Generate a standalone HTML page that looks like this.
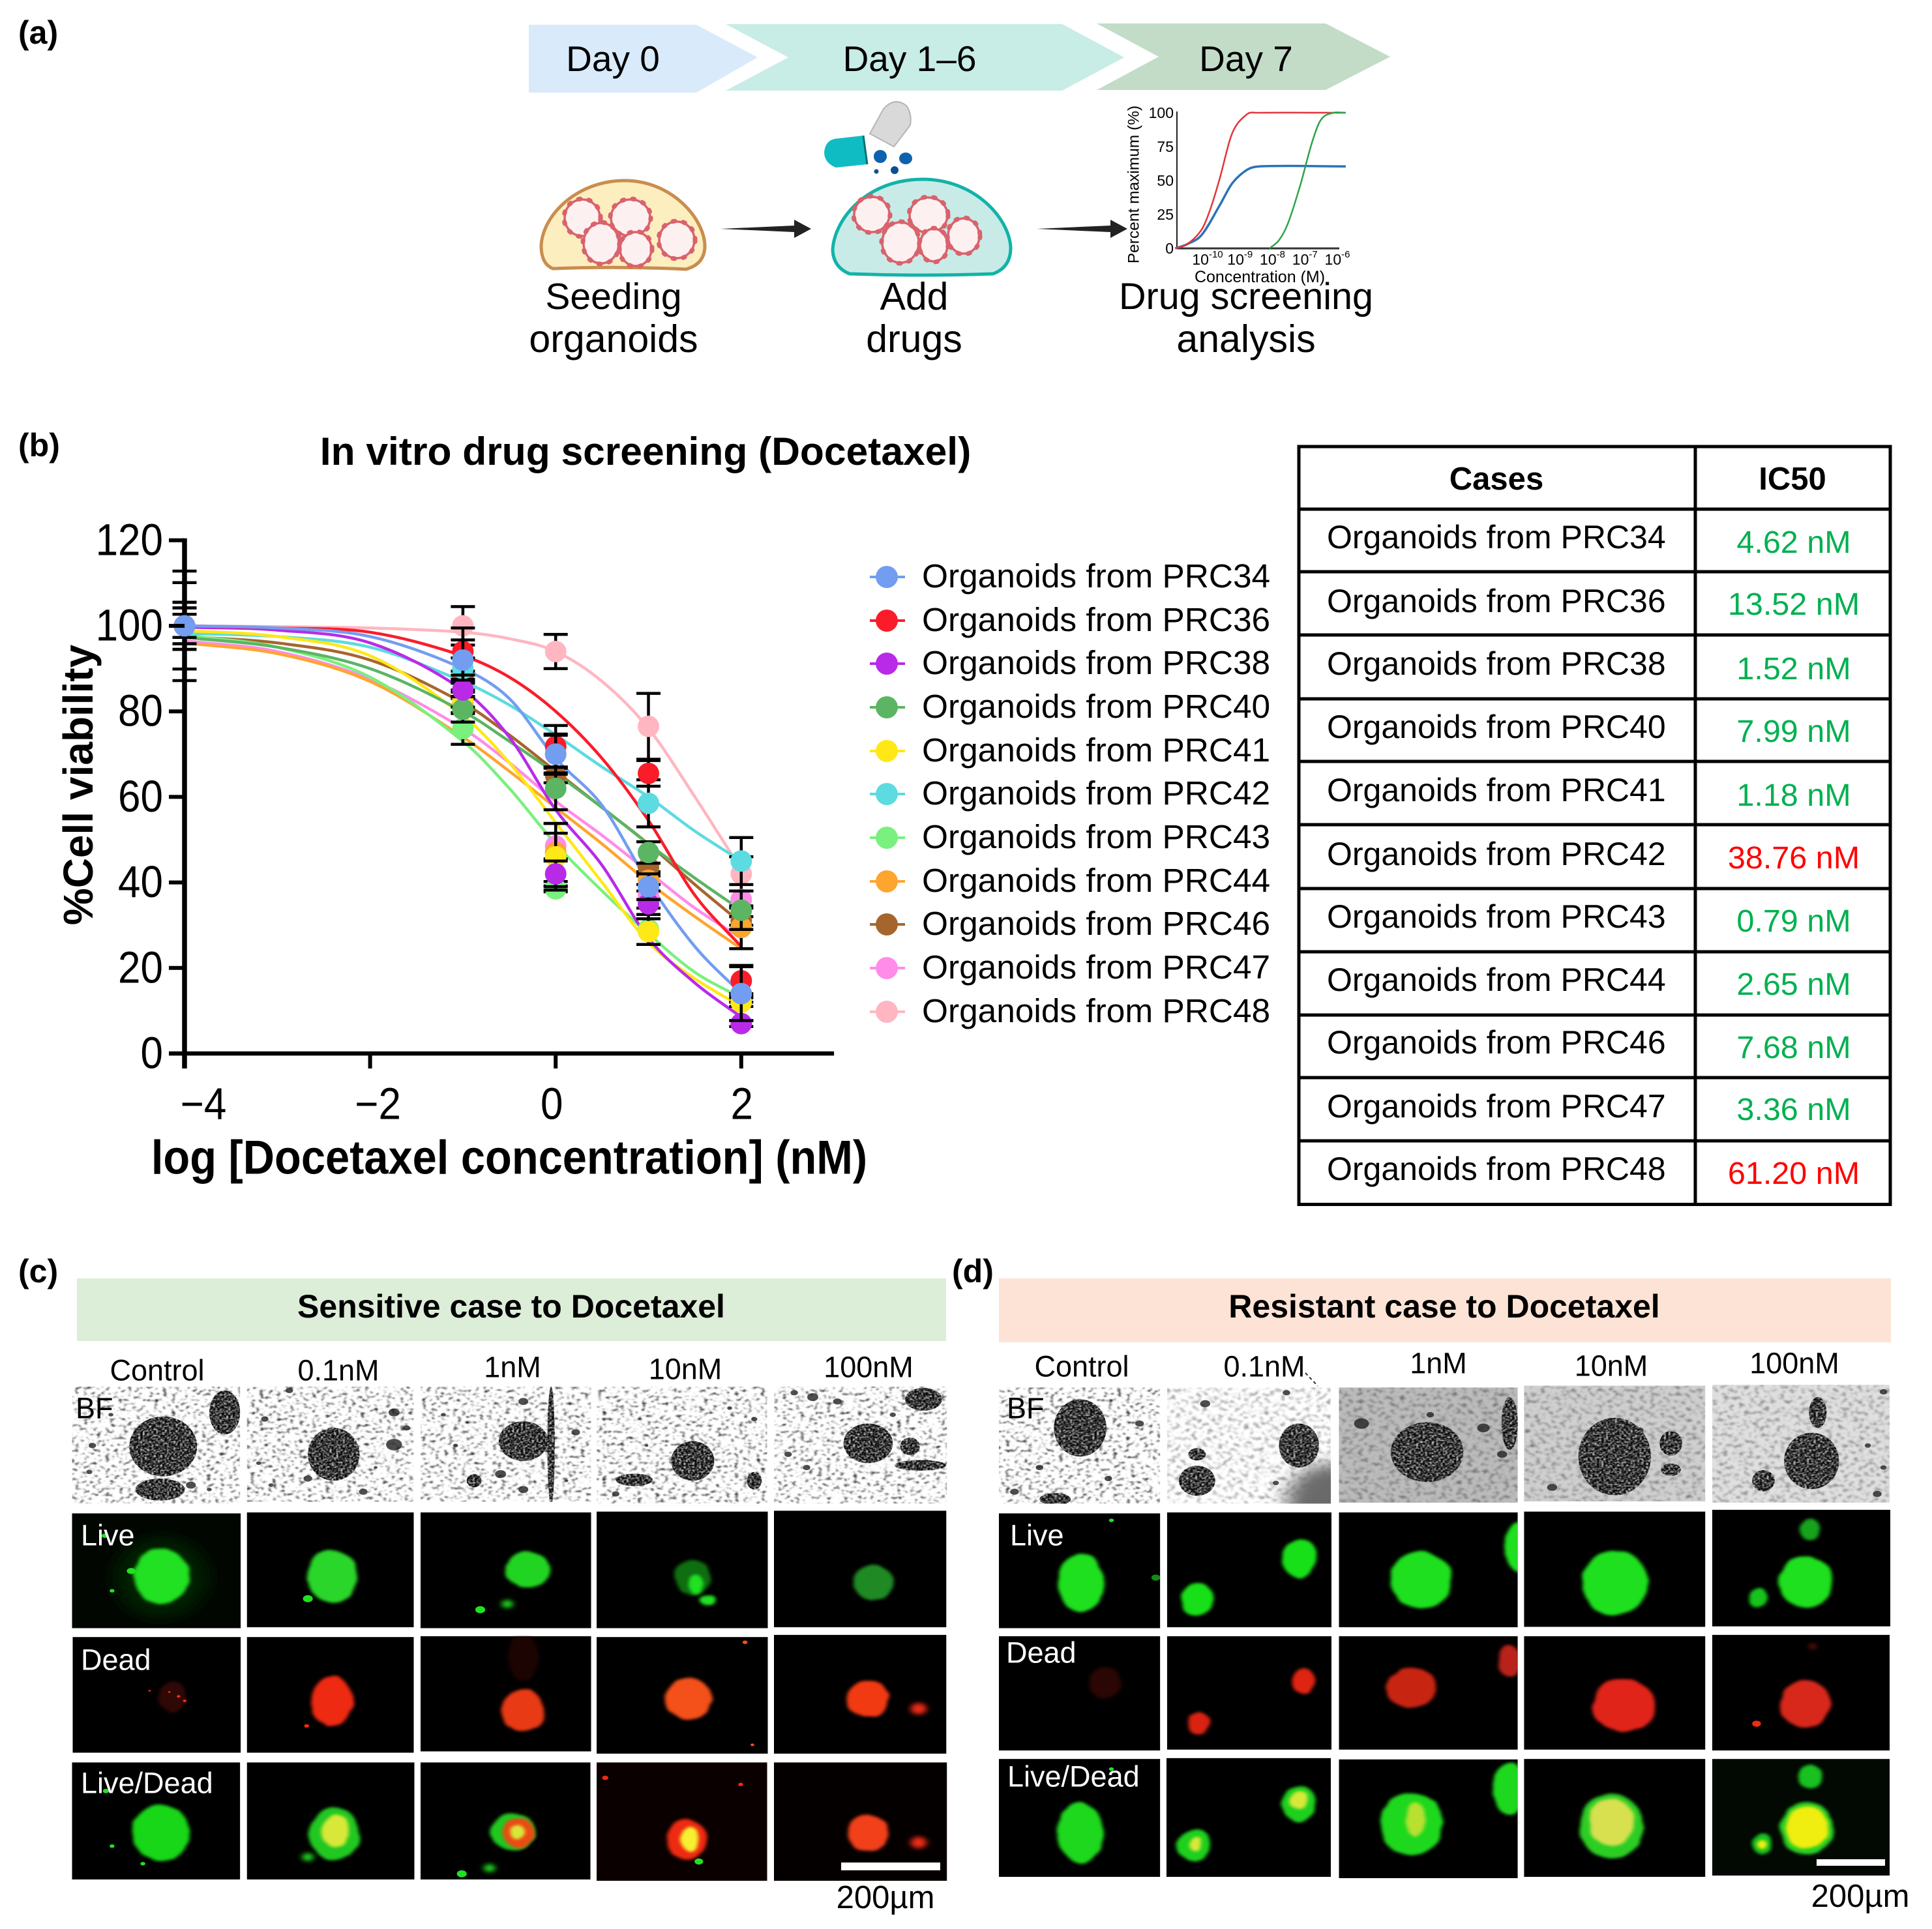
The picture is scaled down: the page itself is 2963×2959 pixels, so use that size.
<!DOCTYPE html>
<html lang="en">
<head>
<meta charset="utf-8">
<title>In vitro drug screening (Docetaxel)</title>
<style>
html,body{margin:0;padding:0;background:#fff;}
svg{display:block;font-family:"Liberation Sans",sans-serif;}
text{dominant-baseline:central;}
</style>
</head>
<body>
<svg id="fig" xmlns="http://www.w3.org/2000/svg" width="2963" height="2959" viewBox="0 0 2963 2959">
<defs>
<filter id="bfTex" x="0" y="0" width="1" height="1" color-interpolation-filters="sRGB"><feTurbulence type="fractalNoise" baseFrequency="0.14" numOctaves="2" seed="4"/><feColorMatrix values="3 0 0 0 -0.38 3 0 0 0 -0.38 3 0 0 0 -0.38 0 0 0 0 1"/><feGaussianBlur stdDeviation="1.1"/></filter>
<filter id="bfSmooth" x="0" y="0" width="1" height="1" color-interpolation-filters="sRGB"><feTurbulence type="fractalNoise" baseFrequency="0.12" numOctaves="2" seed="7"/><feColorMatrix values="1.2 0 0 0 0.38 1.2 0 0 0 0.38 1.2 0 0 0 0.38 0 0 0 0 1"/><feGaussianBlur stdDeviation="1.5"/></filter>
<filter id="ballTex" x="-5%" y="-5%" width="110%" height="110%" color-interpolation-filters="sRGB"><feTurbulence type="fractalNoise" baseFrequency="0.28" numOctaves="2" seed="9"/><feColorMatrix values="2.4 0 0 0 -0.98 2.4 0 0 0 -0.98 2.4 0 0 0 -0.98 0 0 0 0 1"/><feGaussianBlur stdDeviation="0.7"/><feComposite operator="in" in2="SourceAlpha"/></filter>
<filter id="rough" x="-30%" y="-30%" width="160%" height="160%" color-interpolation-filters="sRGB"><feTurbulence type="fractalNoise" baseFrequency="0.03" numOctaves="2" seed="3" result="n"/><feDisplacementMap in="SourceGraphic" in2="n" scale="9" xChannelSelector="R" yChannelSelector="G"/><feGaussianBlur stdDeviation="3"/></filter>
<filter id="soft" x="-60%" y="-60%" width="220%" height="220%"><feGaussianBlur stdDeviation="5"/></filter>
<filter id="glow" x="-80%" y="-80%" width="260%" height="260%"><feGaussianBlur stdDeviation="16"/></filter>
</defs>

<rect width="2963" height="2959" fill="#fff"/>

<!-- Panel a -->
<g>
<text x="28" y="50" font-size="50" font-weight="700">(a)</text>
<polygon points="811,38 1068,38 1162,88 1068,142 811,142" fill="#d9eafa"/>
<polygon points="1113,37 1629,37 1724,88 1629,139 1113,139 1209,88" fill="#c8ece6"/>
<polygon points="1682,36 2033,36 2132,87 2033,138 1682,138 1777,87" fill="#c2dcc8"/>
<text x="940" y="90" font-size="55" text-anchor="middle">Day 0</text>
<text x="1395" y="90" font-size="55" text-anchor="middle">Day 1–6</text>
<text x="1911" y="90" font-size="55" text-anchor="middle">Day 7</text>

<path d="M848,412 Q830,405 830,377 C832,330 885,277 958,277 C1030,277 1080,335 1081,377 Q1081,405 1052,413 Q950,408 848,412Z" fill="#fdeec0" stroke="#c98d4f" stroke-width="5"/>
<g fill="#fdf0f0" stroke="#d9626c">
<ellipse cx="893" cy="334" rx="27" ry="28" stroke-width="3.5"/><ellipse cx="893" cy="334" rx="28" ry="29" fill="none" stroke-width="7" stroke-dasharray="3 13" stroke-linecap="round"/>
<ellipse cx="922" cy="373" rx="27" ry="31" stroke-width="3.5"/><ellipse cx="922" cy="373" rx="28" ry="32" fill="none" stroke-width="7" stroke-dasharray="3 13" stroke-linecap="round"/>
<ellipse cx="967" cy="334" rx="30" ry="28" stroke-width="3.5"/><ellipse cx="967" cy="334" rx="31" ry="29" fill="none" stroke-width="7" stroke-dasharray="3 13" stroke-linecap="round"/>
<ellipse cx="975" cy="382" rx="24" ry="26" stroke-width="3.5"/><ellipse cx="975" cy="382" rx="25" ry="27" fill="none" stroke-width="7" stroke-dasharray="3 13" stroke-linecap="round"/>
<ellipse cx="1038" cy="368" rx="27" ry="28" stroke-width="3.5"/><ellipse cx="1038" cy="368" rx="28" ry="29" fill="none" stroke-width="7" stroke-dasharray="3 13" stroke-linecap="round"/>
</g>
<path d="M1303,420 Q1278,410 1277,383 C1280,335 1330,275 1415,275 C1495,275 1548,335 1550,380 Q1550,410 1523,420 Q1415,424 1303,420Z" fill="#c8ebe8" stroke="#12b3a8" stroke-width="5"/>
<g fill="#fdf0f0" stroke="#d9626c">
<ellipse cx="1337" cy="329" rx="27" ry="27" stroke-width="3.5"/><ellipse cx="1337" cy="329" rx="28" ry="28" fill="none" stroke-width="7" stroke-dasharray="3 13" stroke-linecap="round"/>
<ellipse cx="1381" cy="372" rx="28" ry="31" stroke-width="3.5"/><ellipse cx="1381" cy="372" rx="29" ry="32" fill="none" stroke-width="7" stroke-dasharray="3 13" stroke-linecap="round"/>
<ellipse cx="1424" cy="330" rx="29" ry="27" stroke-width="3.5"/><ellipse cx="1424" cy="330" rx="30" ry="28" fill="none" stroke-width="7" stroke-dasharray="3 13" stroke-linecap="round"/>
<ellipse cx="1478" cy="362" rx="24" ry="27" stroke-width="3.5"/><ellipse cx="1478" cy="362" rx="25" ry="28" fill="none" stroke-width="7" stroke-dasharray="3 13" stroke-linecap="round"/>
<ellipse cx="1432" cy="376" rx="21" ry="25" stroke-width="3.5"/><ellipse cx="1432" cy="376" rx="22" ry="26" fill="none" stroke-width="7" stroke-dasharray="3 13" stroke-linecap="round"/>
</g>
<path d="M1105,351 L1218,346 L1218,337 L1244,351 L1218,365 L1218,356 Z" fill="#222"/>
<path d="M1590,351 L1703,346 L1703,337 L1729,351 L1703,365 L1703,356 Z" fill="#222"/>
<g>
<path d="M1334,205 L1355,167 Q1372,148 1390,162 Q1399,175 1396,192 L1371,225 Z" fill="#d9d9d9" stroke="#b5b5b5" stroke-width="2"/>
<path d="M1324,208 L1330,252 L1282,257 Q1264,250 1264,233 Q1266,216 1280,213 Z" fill="#0fbcc4"/>
<path d="M1324,208 L1330,252" stroke="#0a6f74" stroke-width="3" fill="none"/>
<ellipse cx="1350" cy="240" rx="10" ry="10" fill="#0d62ad"/><ellipse cx="1389" cy="243" rx="10" ry="9" fill="#0d62ad"/><circle cx="1372" cy="261" r="6" fill="#0d4f96"/><circle cx="1344" cy="263" r="3.5" fill="#0d4f96"/>
</g>
<g id="mini">
<line x1="1805" y1="171" x2="1805" y2="381" stroke="#222" stroke-width="2"/>
<line x1="1805" y1="381" x2="2054" y2="381" stroke="#333" stroke-width="3"/>
<text transform="translate(1739,283) rotate(-90)" font-size="24.5" text-anchor="middle">Percent maximum (%)</text>
<text x="1932" y="425" font-size="25" text-anchor="middle">Concentration (M)</text>
</g>
<text x="941" y="455" font-size="57" text-anchor="middle">Seeding</text>
<text x="941" y="520" font-size="59" text-anchor="middle">organoids</text>
<text x="1402" y="455" font-size="59" text-anchor="middle">Add</text>
<text x="1402" y="520" font-size="59" text-anchor="middle">drugs</text>
<text x="1911" y="455" font-size="57.5" text-anchor="middle">Drug screening</text>
<text x="1911" y="520" font-size="59" text-anchor="middle">analysis</text>
</g>

<!-- Panel b -->
<g>
<text x="28" y="683" font-size="50" font-weight="700">(b)</text>
<text x="990" y="692" font-size="60.5" font-weight="700" text-anchor="middle">In vitro drug screening (Docetaxel)</text>
<g id="plot"></g>
<text transform="translate(120,1204) rotate(-90)" font-size="64" font-weight="700" text-anchor="middle">%Cell viability</text>
<text transform="translate(781,1775) scale(1,1.1)" font-size="66.8" font-weight="700" text-anchor="middle">log [Docetaxel concentration] (nM)</text>

<g font-size="51.4">
<g><line x1="1334" x2="1388" y1="885" y2="885" stroke="#729df0" stroke-width="4"/><circle cx="1360" cy="885" r="17" fill="#729df0"/><text x="1414" y="883">Organoids from PRC34</text></g>
<g><line x1="1334" x2="1388" y1="952" y2="952" stroke="#fb1c2a" stroke-width="4"/><circle cx="1360" cy="952" r="17" fill="#fb1c2a"/><text x="1414" y="950">Organoids from PRC36</text></g>
<g><line x1="1334" x2="1388" y1="1018" y2="1018" stroke="#b92ae8" stroke-width="4"/><circle cx="1360" cy="1018" r="17" fill="#b92ae8"/><text x="1414" y="1016">Organoids from PRC38</text></g>
<g><line x1="1334" x2="1388" y1="1085" y2="1085" stroke="#5bb562" stroke-width="4"/><circle cx="1360" cy="1085" r="17" fill="#5bb562"/><text x="1414" y="1083">Organoids from PRC40</text></g>
<g><line x1="1334" x2="1388" y1="1152" y2="1152" stroke="#ffe817" stroke-width="4"/><circle cx="1360" cy="1152" r="17" fill="#ffe817"/><text x="1414" y="1150">Organoids from PRC41</text></g>
<g><line x1="1334" x2="1388" y1="1218" y2="1218" stroke="#5cdbe0" stroke-width="4"/><circle cx="1360" cy="1218" r="17" fill="#5cdbe0"/><text x="1414" y="1216">Organoids from PRC42</text></g>
<g><line x1="1334" x2="1388" y1="1285" y2="1285" stroke="#7af07e" stroke-width="4"/><circle cx="1360" cy="1285" r="17" fill="#7af07e"/><text x="1414" y="1283">Organoids from PRC43</text></g>
<g><line x1="1334" x2="1388" y1="1352" y2="1352" stroke="#fea52f" stroke-width="4"/><circle cx="1360" cy="1352" r="17" fill="#fea52f"/><text x="1414" y="1350">Organoids from PRC44</text></g>
<g><line x1="1334" x2="1388" y1="1418" y2="1418" stroke="#a7652e" stroke-width="4"/><circle cx="1360" cy="1418" r="17" fill="#a7652e"/><text x="1414" y="1416">Organoids from PRC46</text></g>
<g><line x1="1334" x2="1388" y1="1485" y2="1485" stroke="#ff8ce8" stroke-width="4"/><circle cx="1360" cy="1485" r="17" fill="#ff8ce8"/><text x="1414" y="1483">Organoids from PRC47</text></g>
<g><line x1="1334" x2="1388" y1="1552" y2="1552" stroke="#ffb6c1" stroke-width="4"/><circle cx="1360" cy="1552" r="17" fill="#ffb6c1"/><text x="1414" y="1550">Organoids from PRC48</text></g>
</g>

<g>
<g stroke="#000" stroke-width="5" fill="none">
<rect x="1992" y="685" width="907" height="1162.5"/>
<line x1="2600" x2="2600" y1="685" y2="1847"/>
<line x1="1992" x2="2899" y1="781" y2="781"/><line x1="1992" x2="2899" y1="877" y2="877"/><line x1="1992" x2="2899" y1="974" y2="974"/><line x1="1992" x2="2899" y1="1072" y2="1072"/><line x1="1992" x2="2899" y1="1168" y2="1168"/><line x1="1992" x2="2899" y1="1265" y2="1265"/><line x1="1992" x2="2899" y1="1363" y2="1363"/><line x1="1992" x2="2899" y1="1460" y2="1460"/><line x1="1992" x2="2899" y1="1557" y2="1557"/><line x1="1992" x2="2899" y1="1653" y2="1653"/><line x1="1992" x2="2899" y1="1750" y2="1750"/>
</g>
<text x="2295" y="735" font-size="49" font-weight="700" text-anchor="middle">Cases</text>
<text x="2749" y="735" font-size="49" font-weight="700" text-anchor="middle">IC50</text>
<g font-size="50">
<text x="2035" y="824">Organoids from PRC34</text><text x="2035" y="922">Organoids from PRC36</text><text x="2035" y="1018">Organoids from PRC38</text><text x="2035" y="1115">Organoids from PRC40</text><text x="2035" y="1212">Organoids from PRC41</text><text x="2035" y="1310">Organoids from PRC42</text><text x="2035" y="1406">Organoids from PRC43</text><text x="2035" y="1503">Organoids from PRC44</text><text x="2035" y="1599">Organoids from PRC46</text><text x="2035" y="1697">Organoids from PRC47</text><text x="2035" y="1793">Organoids from PRC48</text>
</g>
<g font-size="48.5" text-anchor="middle" fill="#00b050">
<text x="2751" y="832">4.62 nM</text><text x="2751" y="927">13.52 nM</text><text x="2751" y="1026">1.52 nM</text><text x="2751" y="1122">7.99 nM</text><text x="2751" y="1220">1.18 nM</text><text x="2751" y="1316" fill="#ff0000">38.76 nM</text><text x="2751" y="1413">0.79 nM</text><text x="2751" y="1510">2.65 nM</text><text x="2751" y="1607">7.68 nM</text><text x="2751" y="1702">3.36 nM</text><text x="2751" y="1800" fill="#ff0000">61.20 nM</text>
</g>
</g>
</g>

<!-- Panels c and d -->
<g id="photos"></g>
<g>
<text x="28" y="1950" font-size="50" font-weight="700">(c)</text>
<rect x="118" y="1961" width="1333" height="96" fill="#dcedd8"/>
<text x="784" y="2004" font-size="50" font-weight="700" text-anchor="middle">Sensitive case to Docetaxel</text>
<g font-size="45" text-anchor="middle">
<text x="241" y="2102">Control</text><text x="519" y="2102">0.1nM</text><text x="786" y="2097">1nM</text><text x="1051" y="2100">10nM</text><text x="1332" y="2097">100nM</text>
</g>
<text x="116" y="2160" font-size="45">BF</text>
<g font-size="45" fill="#fff">
<text x="124" y="2355">Live</text><text x="124" y="2546">Dead</text><text x="124" y="2735">Live/Dead</text>
</g>
<rect x="1290" y="2857" width="152" height="12" fill="#fff"/>
<text x="1358" y="2911" font-size="49" text-anchor="middle">200µm</text>
</g>
<g>
<text x="1460" y="1950" font-size="50" font-weight="700">(d)</text>
<rect x="1532" y="1961" width="1368" height="98" fill="#fde3d5"/>
<text x="2215" y="2004" font-size="50" font-weight="700" text-anchor="middle">Resistant case to Docetaxel</text>
<g font-size="45" text-anchor="middle">
<text x="1659" y="2096">Control</text><text x="1939" y="2096">0.1nM</text><text x="2206" y="2091">1nM</text><text x="2471" y="2095">10nM</text><text x="2752" y="2091">100nM</text>
</g>
<line x1="2002" y1="2106" x2="2021" y2="2126" stroke="#333" stroke-width="2" stroke-dasharray="5 4"/>
<text x="1544" y="2160" font-size="45">BF</text>
<g font-size="45" fill="#fff">
<text x="1549" y="2355">Live</text><text x="1543" y="2535">Dead</text><text x="1545" y="2725">Live/Dead</text>
</g>
<rect x="2786" y="2852" width="105" height="10" fill="#fff"/>
<text x="2853" y="2909" font-size="49" text-anchor="middle">200µm</text>
</g>
</svg>

<script>
// Main chart data
const seriesIds = ['PRC34','PRC36','PRC38','PRC40','PRC41','PRC42','PRC43','PRC44','PRC46','PRC47','PRC48'];
const seriesColors = ['#729df0','#fb1c2a','#b92ae8','#5bb562','#ffe817','#5cdbe0','#7af07e','#fea52f','#a7652e','#ff8ce8','#ffb6c1'];
const doseLogs = [-4,-1,0,1,2];
const viability = [
 [100,92,70,39,14],
 [100,94,71.8,65.5,17],
 [100,85,42,35,7],
 [100,80.5,62,47,33.5],
 [100,83,46,28.5,12],
 [100,90,70,58.5,45],
 [100,76,38.5,29,13],
 [100,82,47,40.5,29.5],
 [100,88,65,43.5,31],
 [100,85,48.5,37,36],
 [100,100,94,76.5,42]
];
const errors = [
 [4.2,4.7,4.4,3,6.3],
 [2.7,5.5,4.9,3,3.6],
 [5.5,1.6,3,1,0.7],
 [2.7,3,5,2.5,4.5],
 [2.7,2,7.8,3,1],
 [5.5,2.5,4.7,5.5,5.5],
 [4.2,3.7,0.7,3.5,1],
 [2.7,2.5,6.8,1,5],
 [10.1,1.4,1.7,1,1],
 [5.5,2,3,1,2],
 [12.8,4.5,4,7.7,4]
];
const curveLogs = [-4,-3,-2,-1,-0.5,0,0.5,1,1.5,2];
const curves = [
 [100,99.5,97.5,90,83,69,58,40,25,14],
 [100,99.5,98.5,93,88,80,69,54.5,37,25],
 [99.7,99,96,85,74,57,44,27,16.5,8.5],
 [97.3,95,90,80,73,65.5,57.5,49,41,33.5],
 [98.9,97.5,93,79,68,54,40,26,17.5,11],
 [98.2,97.5,95,87,81.5,74.5,67,60,52,45],
 [97.8,95,88,73,62,49,38,28,19,13],
 [96,93.5,87,74,66,57.5,49,40,32,24.5],
 [97.5,96,92,82,74.5,66,57.5,49,39.5,30.5],
 [96.5,94,87.5,76,68,59,51,42.5,34,27],
 [100,99.8,99.5,98.5,97,94,87,76,60,43]
];
const yTicks = [0,20,40,60,80,100,120];
const xTicks = [-4,-2,0,2];
const xTickLabels = ['−4','−2','0','2'];

// Mini chart data (panel a)
const miniNames = ['blue','red','green'];
const miniColors = ['#2a72b8','#e2353a','#2fa34a'];
const miniXs = [
 [-11,-10.64,-10.18,-9.62,-9.24,-8.78,-8.4,-5.74],
 [-11,-10.64,-10.18,-9.9,-9.62,-9.24,-8.78,-8.5,-5.74],
 [-8.09,-7.8,-7.53,-7.15,-6.77,-6.5,-6.12,-5.74]
];
const miniYs = [
 [0,3,10,32,48,58,60.5,60.5],
 [0,3,14,30,52,85,99,100,100],
 [0,6,18,46,79,95,100,100]
];
const miniYTicks = [0,25,50,75,100];
const miniXExp = ['-10','-9','-8','-7','-6'];
const miniXTicks = [-10,-9,-8,-7,-6];

const NS = 'http://www.w3.org/2000/svg';
function mk(parent, tag, attrs, txt){
  const e = document.createElementNS(NS, tag);
  for (const k in attrs) e.setAttribute(k, attrs[k]);
  if (txt !== undefined) e.textContent = txt;
  parent.appendChild(e);
  return e;
}
function smooth(pts){
  const n = pts.length, m = [];
  for (let i=0;i<n;i++){
    const a = pts[Math.max(0,i-1)], b = pts[Math.min(n-1,i+1)];
    m.push((b[1]-a[1])/(b[0]-a[0]));
  }
  let d = 'M'+pts[0][0].toFixed(1)+','+pts[0][1].toFixed(1);
  for (let i=0;i<n-1;i++){
    const dx = (pts[i+1][0]-pts[i][0])/3;
    d += ' C'+(pts[i][0]+dx).toFixed(1)+','+(pts[i][1]+m[i]*dx).toFixed(1)+' '+(pts[i+1][0]-dx).toFixed(1)+','+(pts[i+1][1]-m[i+1]*dx).toFixed(1)+' '+pts[i+1][0].toFixed(1)+','+pts[i+1][1].toFixed(1);
  }
  return d;
}

// Main plot
const plot = document.getElementById('plot');
const xScale = v => 283 + (v + 4) * 142.3;
const yScale = v => 1616 - v * 6.56;

const drawOrder = seriesIds.map((_, i) => seriesIds.length - 1 - i);
drawOrder.forEach(s => {
  const curve = mk(plot, 'path', {d: smooth(curveLogs.map((x,i)=>[xScale(x), yScale(curves[s][i])])), fill:'none', stroke:seriesColors[s], 'stroke-width':4.5});
  
  
});
const yAxis = mk(plot, 'path', {d:`M${xScale(-4)},${yScale(120)-3}V${yScale(0)+23}`, stroke:'#000', 'stroke-width':7.5, fill:'none'});


const xAxis = mk(plot, 'path', {d:`M${xScale(-4)-24},${yScale(0)}H${xScale(3)}`, stroke:'#000', 'stroke-width':6.5, fill:'none'});


drawOrder.forEach(s => {
  const group = mk(plot, 'g', {});
  
  
  doseLogs.forEach((x,i) => {
    const px = xScale(x), py = yScale(viability[s][i]), top = yScale(viability[s][i]+errors[s][i]), bot = yScale(viability[s][i]-errors[s][i]);
    const bar = mk(group, 'path', {d:`M${px},${top}V${bot}M${px-18.5},${top}H${px+18.5}M${px-18.5},${bot}H${px+18.5}`, stroke:'#000', 'stroke-width':4.5, fill:'none'});
    
    
    const dot = mk(group, 'circle', {cx:px, cy:py, r:16.5, fill:seriesColors[s]});
    
    
  });
});
yTicks.forEach(t => {
  const tick = mk(plot, 'path', {d:`M${xScale(-4)-24},${yScale(t)}H${xScale(-4)}`, stroke:'#000', 'stroke-width':6});
  
  
  const lab = mk(plot, 'text', {transform:`translate(250,${yScale(t)-1}) scale(1,1.1)`, 'font-size':62, 'text-anchor':'end'}, String(t));
  
  
});
const xLabelNudge = [29,12,-6,1];
xTicks.forEach((t,i) => {
  const tick = mk(plot, 'path', {d:`M${xScale(t)},${yScale(0)}V${yScale(0)+23}`, stroke:'#000', 'stroke-width':6});
  
  
  const lab = mk(plot, 'text', {transform:`translate(${xScale(t)+xLabelNudge[i]},1693) scale(1,1.1)`, 'font-size':62, 'text-anchor':'middle'}, xTickLabels[i]);
  
  
});

// Mini chart
const mini = document.getElementById('mini');
const mx = v => 1852 + (v + 10) * 49.75;
const my = v => 381 - v * 2.08;
miniNames.forEach((n,s) => {
  const line = mk(mini, 'path', {d:smooth(miniXs[s].map((x,i)=>[mx(x), my(miniYs[s][i])])), fill:'none', stroke:miniColors[s], 'stroke-width':s===0?3.5:2.5});
  
  
});
miniYTicks.forEach(t => {
  const lab = mk(mini, 'text', {x:1800, y:my(t), 'font-size':23, 'text-anchor':'end'}, String(t));
  
  
});
miniXTicks.forEach((t,i) => {
  const lab = mk(mini, 'text', {x:mx(t), y:398, 'font-size':23, 'text-anchor':'middle'});
  
  
  mk(lab, 'tspan', {}, '10');
  mk(lab, 'tspan', {'font-size':15, dy:-8}, miniXExp[i]);
});

// Microscopy panels: coordinates in per-panel local units
const G='#22e022', R='#ee2a12', Y='#d8e838', O='#f4501a';
const groups = [
 {name:'c', ox:0, sx:1/1.059, rows:[
  {kind:'bf', name:'bf', cells:[
   {x:117,y:336,w:273,h:266,balls:[[265,472,55,68],[365,395,25,50],[260,570,40,25]],dots:[[150,470,6],[230,560,5],[340,570,4],[180,400,4],[145,530,5],[310,560,8]]},
   {x:401,y:336,w:271,h:262,balls:[[542,490,42,60]],dots:[[640,468,13],[640,395,9],[500,545,7],[590,575,7],[430,410,6],[470,345,6],[420,510,4],[660,430,6],[440,560,4],[610,520,3]]},
   {x:683,y:336,w:277,h:262,balls:[[850,460,40,45],[895,470,6,135],[770,550,12,15]],dots:[[813,535,9],[935,440,7],[850,370,8],[720,400,4],[850,570,8],[740,470,4],[920,550,3]]},
   {x:969,y:336,w:277,h:266,balls:[[1125,505,35,45],[1030,548,30,14],[1225,550,12,20]],dots:[[1185,385,4],[1000,580,6],[1225,410,5],[1050,470,3]]},
   {x:1257,y:336,w:281,h:266,balls:[[1410,465,40,45],[1500,365,30,26],[1495,515,42,12],[1478,472,16,20]],dots:[[1320,360,9],[1360,370,7],[1280,490,6],[1310,520,6],[1450,400,5],[1290,350,6]]}
  ]},
  {kind:'fl', name:'live', cells:[
   {x:117,y:624,w:274,h:261,bg:'#010601',b:[[262,770,75,90,'#052005',2],[262,767,45,63,G,1]],s:[[182,800,4,G],[213,755,7,G],[170,675,5,G]]},
   {x:401,y:622,w:271,h:261,bg:'#000',b:[[540,767,41,60,'#2ad62a',1]],s:[[500,818,8,G]]},
   {x:683,y:622,w:277,h:263,bg:'#000',b:[[857,753,36,41,'#22d422',1]],s:[[824,830,9,G],[780,843,8,G]]},
   {x:969,y:620,w:278,h:265,bg:'#000',b:[[1125,770,30,40,'#0e6e10',1],[1130,785,13,22,G,1],[1150,822,14,11,G,1]],s:[]},
   {x:1257,y:618,w:280,h:265,bg:'#000',b:[[1418,782,32,40,'#1f8a24',1]],s:[]}
  ]},
  {kind:'fl', name:'dead', cells:[
   {x:118,y:905,w:273,h:263,bg:'#000',b:[[280,1040,22,35,'#300806',1]],s:[[290,1040,3,R],[275,1030,2,R],[300,1050,3,R],[243,1027,2,R]]},
   {x:401,y:905,w:271,h:263,bg:'#000',b:[[540,1050,34,56,R,1]],s:[[498,1107,4,R]]},
   {x:683,y:903,w:277,h:262,bg:'#000',b:[[850,950,25,55,'#1c0402',1],[850,1072,35,48,'#e83a14',1]],s:[]},
   {x:969,y:905,w:278,h:265,bg:'#000',b:[[1118,1045,38,48,O,1]],s:[[1210,917,4,O],[1222,1150,3,O]]},
   {x:1257,y:900,w:280,h:270,bg:'#000',b:[[1410,1045,34,42,'#f23a12',1]],s:[[1492,1068,13,R]]}
  ]},
  {kind:'fl', name:'live-dead', cells:[
   {x:117,y:1190,w:273,h:266,bg:'#000',b:[[262,1350,47,64,'#18d618',1]],s:[[172,1255,5,G],[182,1380,4,G],[232,1420,4,G]]},
   {x:401,y:1190,w:272,h:266,bg:'#000',b:[[543,1352,41,60,'#22c822',1],[545,1345,22,38,Y,1]],s:[[500,1405,9,G]]},
   {x:683,y:1190,w:276,h:266,bg:'#000',b:[[833,1348,36,42,'#20c820',1],[842,1350,26,34,'#ec4a14',1],[840,1348,12,16,Y,1]],s:[[795,1430,9,G],[750,1443,8,G]]},
   {x:969,y:1190,w:277,h:269,bg:'#0a0000',b:[[1115,1365,32,46,R,1],[1120,1365,14,28,'#f6f030',1]],s:[[1135,1415,7,G],[983,1225,5,R],[1203,1240,4,R]]},
   {x:1257,y:1190,w:281,h:269,bg:'#050000',b:[[1410,1350,34,42,'#f2401a',1]],s:[[1492,1372,13,R]]}
  ]}
 ]},
 {name:'d', ox:1460, sx:1/1.043, rows:[
  {kind:'bf', name:'bf', cells:[
   {x:75,y:338,w:258,h:264,balls:[[205,430,42,65],[165,592,25,14]],dots:[[140,520,6],[100,575,7],[300,420,7],[250,545,6]]},
   {x:344,y:338,w:262,h:264,shade:'#6a6a6a',smooth:1,balls:[[392,550,29,34],[555,470,32,50],[392,490,14,14]],dots:[[405,375,8],[518,555,5],[535,350,6]]},
   {x:619,y:338,w:286,h:262,tone:'#bcbcbc',smooth:1,balls:[[760,485,58,68],[892,420,13,60]],dots:[[655,420,12],[850,430,10],[880,490,8],[765,400,6]]},
   {x:915,y:334,w:290,h:263,tone:'#d0d0d0',smooth:1,balls:[[1060,495,58,88],[1150,465,18,28],[1150,525,16,14]],dots:[[960,565,8],[1100,435,6]]},
   {x:1216,y:332,w:284,h:268,tone:'#e0e0e0',smooth:1,balls:[[1375,505,44,64],[1385,395,14,35],[1298,550,18,24]],dots:[[1490,520,5],[1465,470,5],[1480,580,7],[1490,348,6]]}
  ]},
  {kind:'fl', name:'live', cells:[
   {x:75,y:624,w:258,h:261,bg:'#000',b:[[207,782,37,66,'#1ee01e',1]],s:[[255,640,4,G],[326,770,7,'#138a18']]},
   {x:344,y:622,w:263,h:261,bg:'#000',b:[[392,820,25,37,'#18e018',1],[555,727,27,44,'#18e018',1]],s:[]},
   {x:619,y:622,w:286,h:261,bg:'#000',b:[[750,775,49,65,'#1ee01e',1],[908,700,24,58,'#1ee01e',1]],s:[]},
   {x:915,y:620,w:290,h:262,bg:'#000',b:[[1060,782,53,74,'#1ee01e',1]],s:[]},
   {x:1216,y:616,w:285,h:265,bg:'#000',b:[[1365,780,43,59,'#1ee01e',1],[1372,660,16,24,'#17a31c',1],[1290,815,15,21,'#17c41c',1]],s:[]}
  ]},
  {kind:'fl', name:'dead', cells:[
   {x:75,y:903,w:258,h:260,bg:'#000',b:[[245,1010,25,36,'#2a0604',1]],s:[]},
   {x:344,y:903,w:263,h:258,bg:'#000',b:[[395,1100,17,26,'#d82212',1],[563,1005,18,30,'#e02412',1]],s:[]},
   {x:619,y:903,w:286,h:258,bg:'#000',b:[[735,1020,40,46,'#c82412',1],[892,960,18,35,'#b8221a',1]],s:[]},
   {x:915,y:903,w:290,h:258,bg:'#000',b:[[1075,1060,50,60,'#e0241a',1]],s:[]},
   {x:1216,y:900,w:284,h:263,bg:'#000',b:[[1365,1057,40,54,'#d8281c',1],[1376,925,8,10,'#3a0a06',1]],s:[[1287,1102,7,R]]}
  ]},
  {kind:'fl', name:'live-dead', cells:[
   {x:75,y:1182,w:258,h:268,bg:'#000',b:[[205,1350,37,68,'#1ed81e',1]],s:[[255,1205,4,G]]},
   {x:343,y:1180,w:263,h:270,bg:'#000',b:[[387,1378,27,37,'#1ed01e',1],[390,1375,10,16,Y,1],[555,1285,27,41,'#1ed01e',1],[555,1275,15,20,Y,1]],s:[]},
   {x:619,y:1183,w:286,h:270,bg:'#000',b:[[735,1330,51,71,'#1ed81e',1],[742,1320,16,38,'#b8e030',1],[892,1250,27,60,'#1ed81e',1]],s:[]},
   {x:915,y:1182,w:290,h:268,bg:'#000',b:[[1055,1335,51,74,'#2cce24',1],[1055,1325,36,54,'#d8e050',1]],s:[]},
   {x:1216,y:1182,w:284,h:265,bg:'#020802',b:[[1368,1340,43,59,'#2ad022',1],[1368,1338,34,48,'#f0ee10',1],[1373,1222,19,27,'#18c020',1],[1295,1375,16,24,'#18c020',1],[1296,1376,8,10,'#f0ee10',1]],s:[]}
  ]}
 ]}
];
const photos = document.getElementById('photos');
groups.forEach(grp => {
  const g = mk(photos, 'g', {transform:`translate(${grp.ox},1900) scale(${grp.sx},${1/1.481})`});
  
  
  grp.rows.forEach(row => row.cells.forEach((c,ci) => {
    const id = 'clip-' + grp.name + '-' + row.name + '-' + ci;
    const cp = mk(g, 'clipPath', {id:id});
    mk(cp, 'rect', {x:c.x, y:c.y, width:c.w, height:c.h});
    const cell = mk(g, 'g', {'clip-path':`url(#${id})`});
    
    
    if (row.kind === 'bf'){
      mk(cell, 'rect', {x:c.x, y:c.y, width:c.w, height:c.h, filter:c.smooth?'url(#bfSmooth)':'url(#bfTex)'});
      if (c.tone) mk(cell, 'rect', {x:c.x, y:c.y, width:c.w, height:c.h, fill:c.tone, style:'mix-blend-mode:multiply'});
      if (c.shade) mk(cell, 'ellipse', {cx:c.x+c.w, cy:c.y+c.h, rx:70, ry:90, fill:c.shade, filter:'url(#glow)'});
      c.dots.forEach(d => mk(cell, 'circle', {cx:d[0], cy:d[1], r:d[2], fill:'#222', 'fill-opacity':.8}));
      c.balls.forEach(b => {
        mk(cell, 'ellipse', {cx:b[0], cy:b[1], rx:b[2], ry:b[3], fill:'#000', filter:'url(#ballTex)'});
      });
    } else {
      mk(cell, 'rect', {x:c.x, y:c.y, width:c.w, height:c.h, fill:c.bg});
      c.b.forEach(b => mk(cell, 'ellipse', {cx:b[0], cy:b[1], rx:b[2], ry:b[3], fill:b[4], filter:b[5]===2?'url(#glow)':'url(#rough)'}));
      c.s.forEach(s => mk(cell, 'circle', {cx:s[0], cy:s[1], r:s[2], fill:s[3], filter:s[2]>8?'url(#soft)':''}));
    }
  }));
});
</script>
</body>
</html>
